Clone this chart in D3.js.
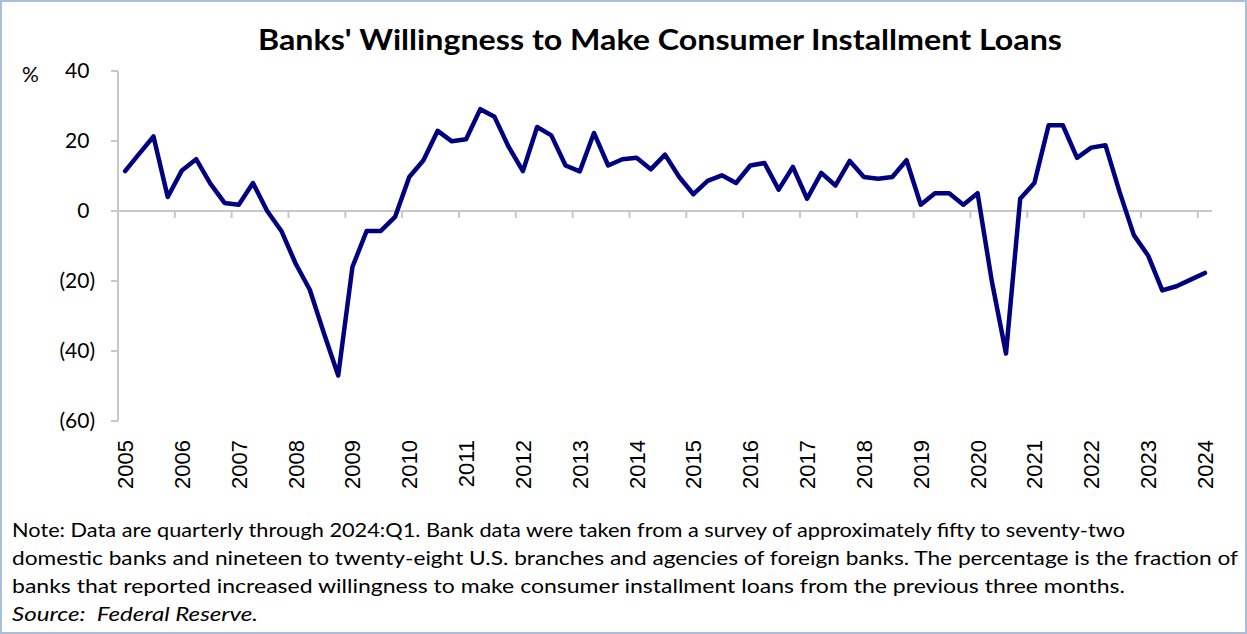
<!DOCTYPE html>
<html>
<head>
<meta charset="utf-8">
<script src="https://cdn.jsdelivr.net/npm/d3@7"></script>
<style>
  body { margin: 0; background: #fff; }
</style>
</head>
<body>
<script>
// quarterly data, 2005:Q1 - 2024:Q1
var years = ["2005","2006","2007","2008","2009","2010","2011","2012","2013","2014",
             "2015","2016","2017","2018","2019","2020","2021","2022","2023","2024"];
var values = [
  11.4, 16.4, 21.3, 4.0,
  11.6, 14.8, 7.8, 2.3,
  1.8, 8.0, 0.0, -5.7,
  -15.0, -22.5, -35.0, -47.0,
  -16.0, -5.7, -5.7, -1.7,
  9.7, 14.5, 22.9, 19.9,
  20.5, 29.1, 26.9, 18.3,
  11.4, 24.0, 21.6, 13.0,
  11.3, 22.3, 13.0, 14.8,
  15.2, 11.9, 16.1, 9.7,
  4.8, 8.6, 10.2, 8.0,
  13.0, 13.7, 6.1, 12.6,
  3.5, 10.9, 7.3, 14.3,
  9.7, 9.2, 9.7, 14.5,
  1.8, 5.1, 5.1, 1.8,
  5.1, -20.0, -40.7, 3.5,
  8.0, 24.5, 24.5, 15.2,
  18.1, 18.8, 5.4, -6.9,
  -12.7, -22.7, -21.5, -19.6,
  -17.7
];
var yTicks = [40, 20, 0, -20, -40, -60];
var noteLines = [
  "Note: Data are quarterly through 2024:Q1. Bank data were taken from a survey of approximately fifty to seventy-two",
  "domestic banks and nineteen to twenty-eight U.S. branches and agencies of foreign banks. The percentage is the fraction of",
  "banks that reported increased willingness to make consumer installment loans from the previous three months."
];
var sourceText = "Source:  Federal Reserve.";

var W = 1247, H = 634;
var svg = d3.select("body").append("svg").attr("width", W).attr("height", H);

svg.append("rect").attr("x", 1).attr("y", 1).attr("width", W - 2).attr("height", H - 2)
    .attr("fill", "#fff").attr("stroke", "#a8bfdc").attr("stroke-width", 2);

var plotL = 118, plotR = 1212, plotT = 71, plotB = 421;
var x = d3.scaleLinear().domain([-0.5, values.length - 0.5]).range([plotL, plotR]);
var y = d3.scaleLinear().domain([-60, 40]).range([plotB, plotT]);

// title
svg.append("text")
    .attr("x", 660).attr("y", 50)
    .attr("text-anchor", "middle")
    .attr("font-family", "Lato, 'Open Sans', sans-serif")
    .attr("font-weight", "bold")
    .attr("font-size", 29)
    .attr("textLength", 804).attr("lengthAdjust", "spacingAndGlyphs")
    .text("Banks' Willingness to Make Consumer Installment Loans");

// y axis
var gy = svg.append("g");
gy.append("line").attr("x1", plotL).attr("x2", plotL).attr("y1", plotT).attr("y2", plotB)
    .attr("stroke", "#c8c8c8").attr("stroke-width", 2);
gy.selectAll(".tk").data(yTicks).enter().append("line")
    .attr("x1", plotL - 7).attr("x2", plotL)
    .attr("y1", function(d) { return y(d); }).attr("y2", function(d) { return y(d); })
    .attr("stroke", "#c8c8c8").attr("stroke-width", 2);
var yl = gy.selectAll(".yl").data(yTicks).enter().append("text")
    .attr("x", 95).attr("y", function(d) { return y(d) + 7; })
    .attr("text-anchor", "end")
    .attr("font-family", "Lato, sans-serif").attr("font-size", 21).attr("fill", "#000");
yl.append("tspan").text(function(d) { return d < 0 ? "(" + (-d) + ")" : d; });
yl.filter(function(d) { return d >= 0; }).append("tspan").attr("fill-opacity", 0).text(")");
svg.append("text").attr("x", 22).attr("y", y(40) + 11)
    .attr("font-family", "Lato, sans-serif").attr("font-size", 21).text("%");

// x axis at zero
var gx = svg.append("g");
gx.append("line").attr("x1", plotL).attr("x2", plotR).attr("y1", y(0)).attr("y2", y(0))
    .attr("stroke", "#c8c8c8").attr("stroke-width", 2);
var bounds = d3.range(1, years.length).map(function(k) { return 4 * k - 0.5; });
gx.selectAll(".xt").data(bounds).enter().append("line")
    .attr("x1", function(d) { return x(d); }).attr("x2", function(d) { return x(d); })
    .attr("y1", y(0)).attr("y2", y(0) + 7)
    .attr("stroke", "#c8c8c8").attr("stroke-width", 2);
gx.selectAll(".xl").data(years).enter().append("text")
    .attr("transform", function(d, i) { return "translate(" + (x(i * 4) + 8) + ",440) rotate(-90)"; })
    .attr("text-anchor", "end")
    .attr("font-family", "'Liberation Sans', Arial, sans-serif").attr("font-size", 22)
    .text(function(d) { return d; });

// series line
var line = d3.line()
    .x(function(d, i) { return x(i); })
    .y(function(d) { return y(d); });
svg.append("path").datum(values)
    .attr("d", line)
    .attr("fill", "none").attr("stroke", "#000080")
    .attr("stroke-width", 4.5).attr("stroke-linejoin", "round").attr("stroke-linecap", "round");

// notes
var ends = [1125, 1238, 1125];
svg.selectAll(".note").data(noteLines).enter().append("text")
    .attr("x", 12).attr("y", function(d, i) { return 537 + i * 28; })
    .attr("font-family", "Lato, sans-serif").attr("font-size", 19)
    .attr("textLength", function(d, i) { return ends[i] - 12; })
    .attr("lengthAdjust", "spacingAndGlyphs")
    .text(function(d) { return d; });
svg.append("text").attr("x", 12).attr("y", 621)
    .attr("font-family", "Lato, sans-serif").attr("font-size", 19).attr("font-style", "italic")
    .attr("textLength", 246).attr("lengthAdjust", "spacingAndGlyphs")
    .attr("xml:space", "preserve")
    .text(sourceText);
</script>
</body>
</html>
